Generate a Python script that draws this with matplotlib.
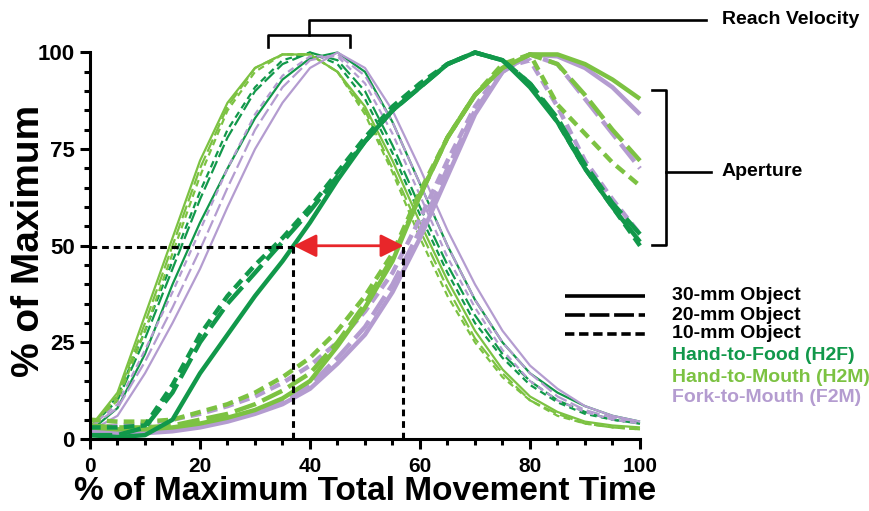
import matplotlib
matplotlib.use("Agg")
import matplotlib.pyplot as plt
from matplotlib.lines import Line2D

plt.rcParams['font.family'] = ['Liberation Sans', 'DejaVu Sans']
plt.rcParams['font.weight'] = 'bold'

# ---------------- data ----------------
time_pct = [0, 5, 10, 15, 20, 25, 30, 35, 40, 45, 50, 55, 60, 65, 70, 75, 80, 85, 90, 95, 100]

# Reach velocity (% of maximum)
vel_h2f_30 = [2, 8, 22, 40, 56, 70, 83, 93, 98.5, 100, 95, 82, 66, 50, 36, 25, 17, 12, 8.5, 6, 4.5]
vel_h2f_20 = [3, 10, 26, 44, 62, 78, 90, 97, 100, 98, 90, 76, 60, 45, 32, 22, 15, 10, 7, 5, 4]
vel_h2f_10 = [3, 11, 28, 46, 64, 80, 91, 98, 100, 97, 88, 74, 58, 43, 30, 21, 14, 9.5, 6.5, 5, 4]
vel_h2m_30 = [3, 12, 32, 52, 72, 87, 96, 99.5, 99.5, 95, 86, 72, 56, 41, 28, 18, 11, 7, 4.5, 3.5, 3]
vel_h2m_20 = [3, 11, 30, 50, 70, 86, 96, 99.5, 99.5, 95, 85, 70, 54, 39, 26, 17, 10, 6.5, 4, 3, 2.5]
vel_h2m_10 = [3, 10, 28, 48, 68, 85, 95, 99.5, 99.5, 95, 84, 69, 52, 37, 25, 16, 10, 6, 4, 3, 2.5]
vel_f2m_30 = [2, 6, 17, 30, 44, 60, 75, 87, 96, 100, 96, 85, 70, 54, 40, 28, 19, 13, 8.5, 6, 4.5]
vel_f2m_20 = [3, 8, 20, 34, 49, 65, 80, 91, 98, 99.5, 94, 82, 66, 50, 36, 25, 17, 11, 7.5, 5.5, 4.5]
vel_f2m_10 = [3, 9, 23, 38, 54, 70, 84, 94, 99, 99, 92, 79, 63, 47, 34, 23, 15, 10, 7, 5, 4]

# Aperture (% of maximum)
ap_h2f_30 = [1, 0.5, 1, 5, 17, 27, 37, 46, 56, 67, 77, 85, 91, 97, 100, 98, 91, 82, 70, 60, 51]
ap_h2f_20 = [1, 1, 3, 12, 25, 35, 43, 51, 59, 68, 77, 85, 91, 97, 100, 98, 92, 83, 71, 61, 53]
ap_h2f_10 = [3, 3, 3.5, 14, 27, 37, 45, 52, 60, 69, 78, 86, 92, 97, 100, 98, 92, 82, 70, 60, 50]
ap_h2m_30 = [3, 2.5, 2.5, 3, 4, 5.5, 7.5, 10.5, 15, 24, 34, 46, 63, 78, 89, 96, 99.5, 99.5, 97, 93, 88]
ap_h2m_20 = [3.5, 3, 3, 3.5, 5, 6.5, 9, 12.5, 17, 25, 35, 47, 63, 78, 89, 96, 99.5, 97, 89, 80, 72]
ap_h2m_10 = [5, 4.5, 4.5, 5, 7, 9, 12, 16, 21, 28, 37, 48, 64, 78, 89, 97, 99.5, 86.5, 79, 71.5, 65.5]
ap_f2m_30 = [2, 1.5, 1.5, 2, 3, 4.5, 6.5, 9, 13, 19.5, 27, 38, 52, 68, 84, 95, 99.5, 99, 96, 91, 84]
ap_f2m_20 = [2.5, 2, 2, 2.5, 3.5, 5, 7, 10, 14, 21, 29, 40, 54, 70, 85, 95, 99.5, 97, 88, 79, 70]
ap_f2m_10 = [3, 3.5, 4, 5, 6.5, 8.5, 11, 14.5, 19, 25, 33, 43, 57, 72, 86, 96, 98, 86, 72, 62, 53]

# 50 % reference (aperture crossing times)
ref_level = 50
ref_times = [37, 57]

x_ticks = [0, 20, 40, 60, 80, 100]
y_ticks = [0, 25, 50, 75, 100]

legend_sizes = ['30-mm Object', '20-mm Object', '10-mm Object']
legend_tasks = ['Hand-to-Food (H2F)', 'Hand-to-Mouth (H2M)', 'Fork-to-Mouth (F2M)']

# ---------------- style ----------------
C_H2F = '#11984a'
C_H2M = '#7cc242'
C_F2M = '#b49cd0'
RED = '#e8262a'

fig = plt.figure(figsize=(8.7, 5.11), dpi=100)
W, H = 870, 511
def fx(px):
    return px / W
def fy(py):
    return 1 - py / H

ax = fig.add_axes([fx(90), fy(439), fx(640) - fx(90), fy(52.5) - fy(439)])

styles = {'30': (0, ()), '20': (0, (5, 1.6)), '10': (0, (2.4, 1.4))}
vstyles = {'30': (0, ()), '20': (0, (6, 2)), '10': (0, (3, 2))}

vel = [
    (vel_h2f_30, C_H2F, '30'), (vel_h2f_20, C_H2F, '20'), (vel_h2f_10, C_H2F, '10'),
    (vel_h2m_30, C_H2M, '30'), (vel_h2m_20, C_H2M, '20'), (vel_h2m_10, C_H2M, '10'),
    (vel_f2m_30, C_F2M, '30'), (vel_f2m_20, C_F2M, '20'), (vel_f2m_10, C_F2M, '10'),
]
for vals, col, sz in vel:
    ax.plot(time_pct, vals, color=col, lw=1.6, linestyle=vstyles[sz], clip_on=False,
            solid_capstyle='butt', dash_capstyle='butt', solid_joinstyle='round')

ap = [
    (ap_f2m_30, C_F2M, '30'), (ap_f2m_20, C_F2M, '20'), (ap_f2m_10, C_F2M, '10'),
    (ap_h2m_30, C_H2M, '30'), (ap_h2m_20, C_H2M, '20'), (ap_h2m_10, C_H2M, '10'),
    (ap_h2f_30, C_H2F, '30'), (ap_h2f_20, C_H2F, '20'), (ap_h2f_10, C_H2F, '10'),
]
for vals, col, sz in ap:
    ax.plot(time_pct, vals, color=col, lw=3.2, linestyle=styles[sz], clip_on=False,
            solid_capstyle='butt', dash_capstyle='butt', solid_joinstyle='round')

# reference dotted lines
dot = (0, (2.2, 1.6))
ax.plot([0, ref_times[0]], [ref_level - 0.3, ref_level - 0.3], color='black', lw=2.2, linestyle=dot)
for t in ref_times:
    ax.plot([t, t], [0, ref_level], color='black', lw=2.2, linestyle=dot)
ax.annotate('', xy=(ref_times[0], ref_level), xytext=(ref_times[1], ref_level),
            arrowprops=dict(arrowstyle='<|-|>,head_length=1.4,head_width=0.7',
                            color=RED, lw=2, shrinkA=0, shrinkB=0))

ax.set_xlim(0, 100)
ax.set_ylim(0, 100)
ax.set_xticks(x_ticks)
ax.set_yticks(y_ticks)
ax.set_xticks(range(0, 101, 5), minor=True)
ax.set_yticks(range(0, 101, 5), minor=True)
for s in ['top', 'right']:
    ax.spines[s].set_visible(False)
for s in ['left', 'bottom']:
    ax.spines[s].set_linewidth(2.2)
ax.tick_params(which='major', length=7, width=2.2, labelsize=16, pad=4)
ax.tick_params(which='minor', length=4, width=2.2)
ax.tick_params(axis='x', which='major', labelsize=15, pad=6)
for lab in ax.get_xticklabels() + ax.get_yticklabels():
    lab.set_fontweight('bold')

ax.set_xlabel('% of Maximum Total Movement Time', fontsize=24, fontweight='bold')
ax.xaxis.set_label_coords(0.5, -0.095)
ax.set_ylabel('% of Maximum', fontsize=28, fontweight='bold')
ax.yaxis.set_label_coords(-0.078, 0.512)

# ---- annotation brackets ----
lk = dict(color='black', lw=1.9, solid_capstyle='projecting')
def fline(xs, ys):
    fig.add_artist(Line2D([fx(x) for x in xs], [fy(y) for y in ys], **lk))

# Reach velocity
fline([268, 268, 350, 350], [47, 35, 35, 47])
fline([309, 309, 706], [35, 20, 20])
fig.text(fx(722), fy(20), 'Reach Velocity', fontsize=14, fontweight='bold', va='center', ha='left')
# Aperture
fline([652, 666, 666, 652], [90, 90, 245, 245])
fline([666, 711], [172, 172])
fig.text(fx(722), fy(172), 'Aperture', fontsize=14, fontweight='bold', va='center', ha='left')

# ---- legend ----
leg_styles = [(0, ()), (0, (5.5, 1.3)), (0, (2.6, 1.3))]
for i, (lab, ls) in enumerate(zip(legend_sizes, leg_styles)):
    yy = 296 + i * 19
    fig.add_artist(Line2D([fx(565), fx(645)], [fy(yy), fy(yy)], color='black', lw=2.6,
                          linestyle=ls, solid_capstyle='butt', dash_capstyle='butt'))
    fig.text(fx(672), fy(yy), lab, fontsize=14, fontweight='bold', va='center', ha='left')
for i, (lab, col) in enumerate(zip(legend_tasks, [C_H2F, C_H2M, C_F2M])):
    yy = 356 + i * 21
    fig.text(fx(672), fy(yy), lab, fontsize=14, fontweight='bold', va='center', ha='left', color=col)

fig.savefig('out.png', dpi=100)
